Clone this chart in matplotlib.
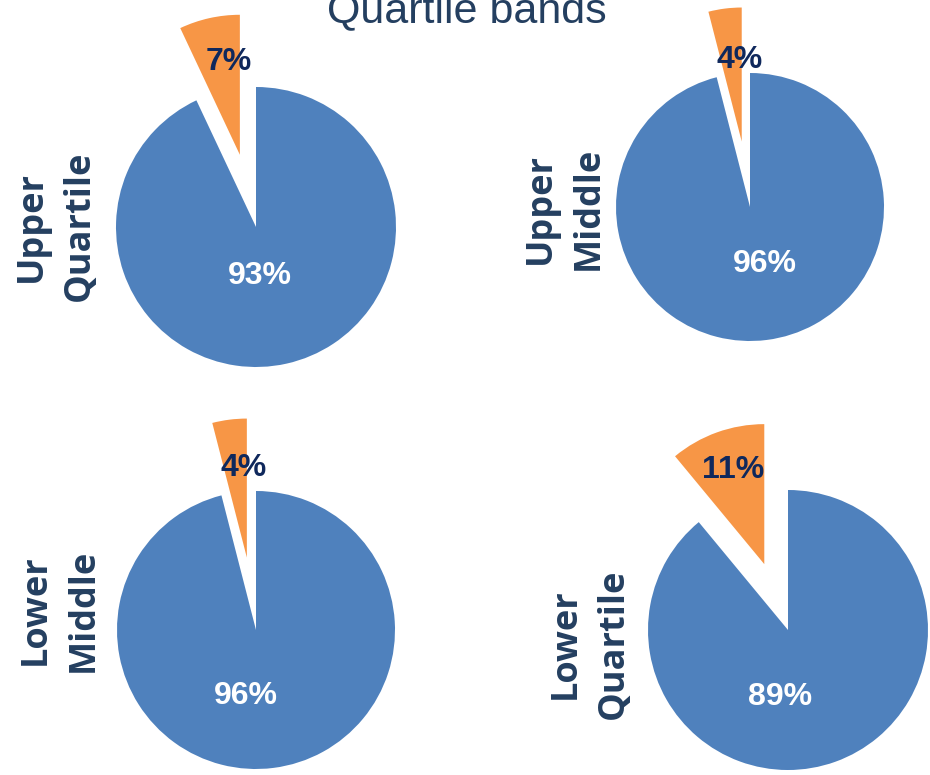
import matplotlib
matplotlib.use("Agg")
import matplotlib.pyplot as plt

# ---- data ----
title = "Quartile bands"
bands = ["Upper\nQuartile", "Upper\nMiddle", "Lower\nMiddle", "Lower\nQuartile"]
share_main = [93, 96, 96, 89]
share_other = [7, 4, 4, 11]

# ---- layout (pixel coordinates, y measured from top) ----
W, H = 930, 775
centers = [(256, 227), (750, 207), (256, 630), (788, 630)]
radii = [140, 134, 139, 140]
explode_px = [74, 66, 73, 70]
main_lbl = [(260, 276), (765, 264), (246, 696), (780, 697)]
other_lbl = [(229, 62), (740, 60), (244, 468), (733, 470)]
band_lbl = [(56, 226), (565, 208), (60, 610), (590, 644)]

BLUE = "#4F81BD"
ORANGE = "#F79646"
NAVY_T = "#243F60"
NAVY_P = "#0F285C"

fig = plt.figure(figsize=(W / 100, H / 100), dpi=100)
ax = fig.add_axes([0, 0, 1, 1])

for i in range(4):
    cx, cy = centers[i]
    r = radii[i]
    ax.pie([share_main[i], share_other[i]],
           colors=[BLUE, ORANGE],
           startangle=90, counterclock=False,
           center=(cx, H - cy), radius=r,
           explode=[0, explode_px[i]],
           wedgeprops=dict(linewidth=0),
           frame=True)
    mx, my = main_lbl[i]
    ax.text(mx, H - my, f"{share_main[i]}%", color="white",
            fontsize=23, fontweight="bold", family="Liberation Sans",
            ha="center", va="center")
    ox, oy = other_lbl[i]
    ax.text(ox, H - oy, f"{share_other[i]}%", color=NAVY_P,
            fontsize=23, fontweight="bold", family="Liberation Sans",
            ha="center", va="center")
    bx, by = band_lbl[i]
    ax.text(bx, H - by, bands[i], color=NAVY_T, rotation=90,
            fontsize=26, fontweight="bold", family="Open Sans",
            ha="center", va="center", multialignment="center",
            linespacing=1.45)

ax.set_xlim(0, W)
ax.set_ylim(0, H)
ax.set_aspect("equal")
ax.axis("off")

fig.text(467 / W, 1 - 22 / H, title, color=NAVY_T, fontsize=31,
         family="Liberation Sans", ha="center", va="baseline")

fig.savefig("out.png", dpi=100)
